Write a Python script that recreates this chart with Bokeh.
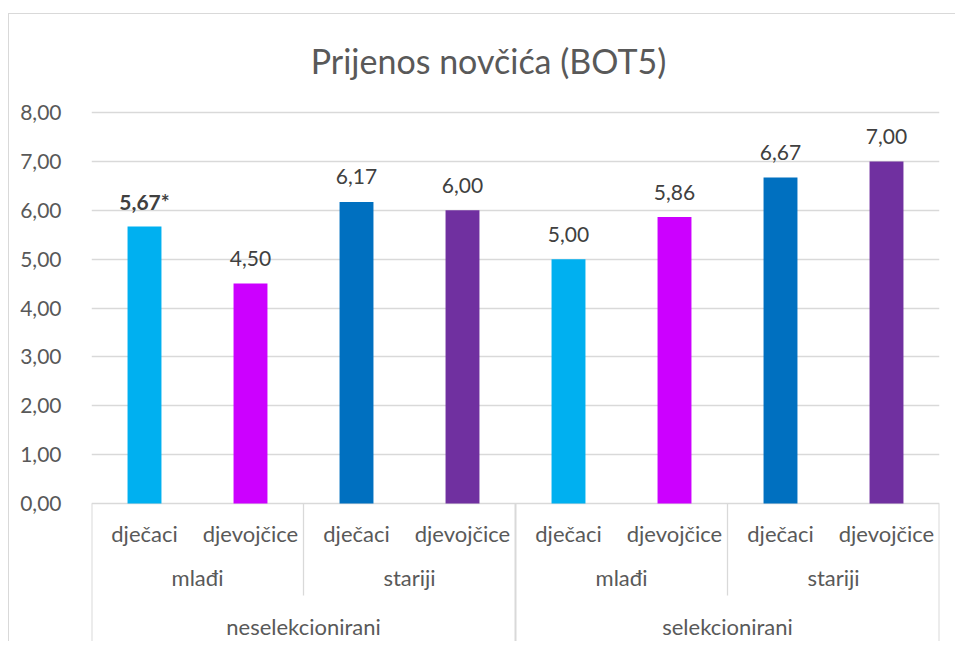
from bokeh.plotting import figure
from bokeh.models import FactorRange, Range1d, ColumnDataSource, CustomJSTickFormatter, FixedTicker
from bokeh.core.properties import value
from bokeh.embed import file_html
from bokeh.resources import INLINE

# ---- data ----
chart_title = "Prijenos novčića (BOT5)"
groups = ["neselekcionirani", "selekcionirani"]
ages = ["mlađi", "stariji"]
genders = ["dječaci", "djevojčice"]
values = [5.67, 4.50, 6.17, 6.00, 5.00, 5.86, 6.67, 7.00]
marks = ["*", "", "", "", "", "", "", ""]          # significance mark on label
y_ticks = [0, 1, 2, 3, 4, 5, 6, 7, 8]

# ---- styles ----
color_map = {("mlađi", "dječaci"): "#00B0F0", ("mlađi", "djevojčice"): "#CC00FF",
             ("stariji", "dječaci"): "#0070C0", ("stariji", "djevojčice"): "#7030A0"}
FONT = "Lato"
TXT = "#595959"
GRID = "#d9d9d9"

factors = [(g, a, s) for g in groups for a in ages for s in genders]

# layout (page pixels)
CANVAS_TOP, CANVAS_BOTTOM = 14, 642
Y8_PX, Y0_PX = 112, 503
PX_PER_UNIT = (Y0_PX - Y8_PX) / 8.0
y_end = 8 + (Y8_PX - CANVAS_TOP) / PX_PER_UNIT
y_start = -(CANVAS_BOTTOM - Y0_PX) / PX_PER_UNIT

p = figure(
    x_range=FactorRange(*factors, factor_padding=0, subgroup_padding=0,
                        group_padding=0, range_padding=0),
    y_range=Range1d(y_start, y_end),
    width=947, height=CANVAS_BOTTOM - CANVAS_TOP,
    output_backend="svg", toolbar_location=None, x_axis_location=None,
    min_border_left=82, min_border_right=17, min_border_top=0, min_border_bottom=0,
)
p.styles = {"border-top": f"1px solid {GRID}", "border-left": f"1px solid {GRID}",
            "margin-top": "13px", "margin-left": "8px"}
p.outline_line_color = None
p.background_fill_color = "white"

# y axis
p.yaxis.ticker = FixedTicker(ticks=y_ticks)
p.yaxis.formatter = CustomJSTickFormatter(code="return tick.toFixed(2).replace('.', ',')")
p.yaxis.axis_line_color = None
p.yaxis.major_tick_line_color = None
p.yaxis.minor_tick_line_color = None
p.yaxis.major_label_text_font = FONT
p.yaxis.major_label_text_font_size = "21px"
p.yaxis.major_label_text_color = TXT
p.yaxis.major_label_standoff = 24

p.xgrid.visible = False
p.ygrid.ticker = FixedTicker(ticks=y_ticks)
p.ygrid.grid_line_color = GRID
p.ygrid.grid_line_width = 1.3

# bars
labels = [f"{v:.2f}".replace(".", ",") + m for v, m in zip(values, marks)]
styles = ["bold" if m else "normal" for m in marks]
src = ColumnDataSource(dict(
    x=factors, v=values, c=[color_map[(f[1], f[2])] for f in factors],
    lbl=labels, st=styles))
p.vbar(x="x", top="v", width=0.32, fill_color="c", line_color=None, source=src)
p.text(x="x", y="v", text="lbl", source=src, text_font=value(FONT),
       text_font_size="21px", text_color="#404040", text_align="center",
       text_baseline="middle", y_offset=-25, text_font_style="st")

# multi-level category labels
lvl1 = ColumnDataSource(dict(x=factors, t=[f[2] for f in factors], y=[0] * len(factors)))
mids = [(g, a) for g in groups for a in ages]
lvl2 = ColumnDataSource(dict(x=mids, t=[m[1] for m in mids], y=[0] * len(mids)))
lvl3 = ColumnDataSource(dict(x=groups, t=groups, y=[0] * len(groups)))
for s, off in ((lvl1, 30), (lvl2, 74), (lvl3, 123)):
    p.text(x="x", y="y", text="t", source=s, text_font=value(FONT),
           text_font_size="22px", text_color=TXT, text_align="center",
           text_baseline="middle", y_offset=off)

# separators between groups
short_x, long_x = [], []
for g in groups:
    for ai, a in enumerate(ages):
        pos = factors.index((g, a, genders[0]))
        (long_x if ai == 0 else short_x).append(pos)
long_x.append(len(factors))
short_end = -(595 - Y0_PX) / PX_PER_UNIT
p.segment(x0=short_x, y0=[0] * len(short_x), x1=short_x, y1=[short_end] * len(short_x),
          line_color=GRID, line_width=1.3)
p.segment(x0=long_x, y0=[0] * len(long_x), x1=long_x, y1=[y_start] * len(long_x),
          line_color=GRID, line_width=2)

# title (centred at page x=488, y=60)
p.text(x=[0], y=[8], text=[chart_title], text_font=value(FONT), text_font_size="34px",
       text_color=TXT, text_align="center", text_baseline="middle",
       x_offset=488 - 91, y_offset=60 - Y8_PX)

open("out.html", "w").write(file_html(p, INLINE))
